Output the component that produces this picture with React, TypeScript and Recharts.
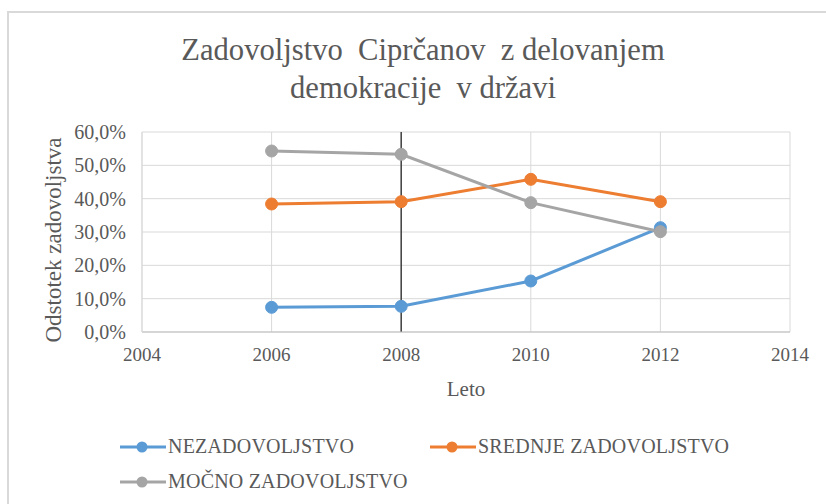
import { LineChart, Line, XAxis, YAxis, CartesianGrid, Legend, ReferenceLine } from "recharts"

const years = [2006, 2008, 2010, 2012]
const nezadovoljstvo = [7.4, 7.7, 15.3, 31.3]
const srednje = [38.4, 39.1, 45.8, 39.1]
const mocno = [54.3, 53.3, 38.8, 30.1]
const seriesNames = ["NEZADOVOLJSTVO", "SREDNJE ZADOVOLJSTVO", "MOČNO ZADOVOLJSTVO"]
const xTicks = [2004, 2006, 2008, 2010, 2012, 2014]
const yTicks = [0, 10, 20, 30, 40, 50, 60]

const data = years.map((year, i) => ({
  year,
  nez: nezadovoljstvo[i],
  sre: srednje[i],
  moc: mocno[i],
}))

const font = "Liberation Serif"
const textColor = "#595959"

const fmtPct = (v: number) => v.toFixed(1).replace(".", ",") + "%"

function LegendContent(props: any) {
  const items = [...(props.payload || [])].sort(
    (a: any, b: any) => seriesNames.indexOf(a.value) - seriesNames.indexOf(b.value)
  )
  return (
    <div style={{ display: "flex", flexWrap: "wrap", width: 640, fontFamily: font }}>
      {items.map((it: any) => (
        <div key={it.value} style={{ width: 310, height: 35, display: "flex", alignItems: "center" }}>
          <svg width={48} height={14} style={{ flex: "none" }}>
            <line x1={0} y1={7} x2={46} y2={7} stroke={it.color} strokeWidth={3} />
            <circle cx={22} cy={7} r={5.5} fill={it.color} />
          </svg>
          <span style={{ fontSize: 20, color: textColor, letterSpacing: 0.2, fontFamily: font }}>{it.value}</span>
        </div>
      ))}
    </div>
  )
}

export default function App() {
  return (
    <div style={{ position: "absolute", left: 0, top: 0, width: 826, height: 504, background: "#fff", overflow: "hidden", fontFamily: font }}>
      <div
        style={{
          position: "absolute",
          left: 7,
          top: 11,
          width: 840,
          height: 520,
          border: "2px solid #d9d9d9",
        }}
      />
      <div
        style={{
          position: "absolute",
          left: 0,
          top: 31,
          width: 846,
          textAlign: "center",
          fontFamily: font,
          fontSize: 30.6,
          lineHeight: "38px",
          color: textColor,
        }}
      >
        Zadovoljstvo&nbsp; Ciprčanov&nbsp; z delovanjem
        <br />
        demokracije&nbsp; v državi
      </div>
      <div style={{ position: "absolute", left: 0, top: 0 }}>
        <LineChart
          width={826}
          height={504}
          data={data}
          margin={{ top: 132, right: 36, bottom: 0, left: 0 }}
          style={{ fontFamily: font }}
        >
          <CartesianGrid stroke="#d9d9d9" strokeWidth={1} horizontalValues={yTicks} verticalValues={xTicks} />
          <XAxis
            dataKey="year"
            type="number"
            domain={[2004, 2014]}
            ticks={xTicks}
            interval={0}
            tickLine={false}
            axisLine={{ stroke: "#bfbfbf" }}
            height={172}
            tickMargin={10}
            tick={{ fill: textColor, fontSize: 19, fontFamily: font }}
            label={(p: any) => {
              const vb = p.viewBox
              return (
                <text x={vb.x + vb.width / 2} y={396} textAnchor="middle" fill={textColor} fontSize={21} fontFamily={font}>
                  Leto
                </text>
              )
            }}
          />
          <YAxis
            type="number"
            domain={[0, 60]}
            ticks={yTicks}
            interval={0}
            width={142}
            tickLine={false}
            axisLine={{ stroke: "#d9d9d9" }}
            tickSize={6}
            tickMargin={10}
            tickFormatter={fmtPct}
            tick={{ fill: textColor, fontSize: 20, fontFamily: font }}
            label={() => (
              <text
                x={61}
                y={240}
                transform="rotate(-90 61 240)"
                textAnchor="middle"
                fill={textColor}
                fontSize={23}
                fontFamily={font}
              >
                Odstotek zadovoljstva
              </text>
            )}
          />
          <ReferenceLine x={2008} stroke="#404040" strokeWidth={1.5} />
          <Legend
            verticalAlign="middle"
            align="center"
            layout="horizontal"
            wrapperStyle={{ position: "absolute", left: 120, top: 429, width: 640 }}
            content={<LegendContent />}
          />
          <Line
            name={seriesNames[0]}
            dataKey="nez"
            stroke="#5b9bd5"
            strokeWidth={3}
            dot={{ r: 6, fill: "#5b9bd5", stroke: "#5b9bd5", strokeWidth: 1 }}
            isAnimationActive={false}
          />
          <Line
            name={seriesNames[1]}
            dataKey="sre"
            stroke="#ed7d31"
            strokeWidth={3}
            dot={{ r: 6, fill: "#ed7d31", stroke: "#ed7d31", strokeWidth: 1 }}
            isAnimationActive={false}
          />
          <Line
            name={seriesNames[2]}
            dataKey="moc"
            stroke="#a5a5a5"
            strokeWidth={3}
            dot={{ r: 6, fill: "#a5a5a5", stroke: "#a5a5a5", strokeWidth: 1 }}
            isAnimationActive={false}
          />
        </LineChart>
      </div>
    </div>
  )
}
